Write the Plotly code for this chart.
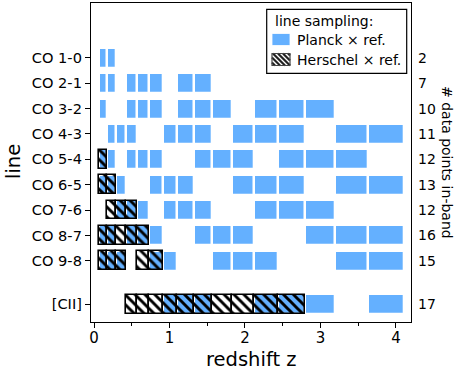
import plotly.graph_objects as go

# ---- data ----
lines = ["CO 1-0", "CO 2-1", "CO 3-2", "CO 4-3", "CO 5-4",
         "CO 6-5", "CO 7-6", "CO 8-7", "CO 9-8", "[CII]"]
line_pos = [1, 2, 3, 4, 5, 6, 7, 8, 9, 10.71]
n_points = [2, 7, 10, 11, 12, 13, 12, 16, 15, 17]

# redshift bin edges of the reference sample
z_edges = [0.062, 0.168, 0.287, 0.420, 0.571, 0.731, 0.911, 1.106, 1.322,
           1.565, 1.829, 2.120, 2.443, 2.798, 3.191, 3.624, 4.106]

# bins (1-based) in which the line falls into a Planck band
planck_bins = [
    [1, 2],
    [1, 2, 4, 5, 6, 8, 9],
    [1, 4, 5, 6, 8, 9, 10, 12, 13, 14],
    [2, 3, 4, 7, 8, 9, 11, 12, 13, 15, 16],
    [1, 2, 4, 5, 6, 9, 10, 11, 13, 14, 15],
    [1, 2, 3, 6, 7, 8, 11, 12, 13, 15, 16],
    [3, 4, 5, 7, 8, 9, 12, 13, 14],
    [1, 2, 4, 5, 6, 9, 10, 11, 14, 15, 16],
    [1, 2, 3, 6, 7, 10, 11, 12, 15, 16],
    [7, 8, 9, 12, 13, 14, 16],
]
# bins (1-based) in which the line falls into a Herschel band
herschel_bins = [
    [], [], [], [],
    [1],
    [1, 2],
    [2, 3, 4],
    [1, 2, 3, 4, 5],
    [1, 2, 3, 5, 6],
    [4, 5, 6, 7, 8, 9, 10, 11, 12, 13],
]

BLUE = "#64B0FF"
FONT = "DejaVu Sans"

# figure geometry (pixels)
W, H = 456, 375
ML, MR, MT, MB = 91, 45, 3, 53
PW, PH = W - ML - MR, H - MT - MB


def px(x):
    return (x - ML) / PW


def py(y):
    return (H - MB - y) / PH


def expand(bin_lists):
    ys, bases, widths = [], [], []
    for pos, bins in zip(line_pos, bin_lists):
        for b in bins:
            ys.append(pos)
            bases.append(z_edges[b - 1])
            widths.append(z_edges[b] - z_edges[b - 1])
    return ys, bases, widths


p_y, p_b, p_w = expand(planck_bins)
h_y, h_b, h_w = expand(herschel_bins)

fig = go.Figure()
fig.add_trace(go.Bar(
    orientation="h", y=p_y, x=p_w, base=p_b, width=0.79,
    marker=dict(color=BLUE, line=dict(color="white", width=2.3)),
    name="Planck \u00d7 ref.", hoverinfo="skip", showlegend=False))
fig.add_trace(go.Bar(
    orientation="h", y=h_y, x=h_w, base=h_b, width=0.74,
    marker=dict(color="black",
                pattern=dict(shape="\\", fillmode="replace", size=7,
                             solidity=0.42, bgcolor="rgba(0,0,0,0)"),
                line=dict(color="black", width=1.6)),
    name="Herschel \u00d7 ref.", hoverinfo="skip", showlegend=False))

annotations = []
for pos, n in zip(line_pos, n_points):
    annotations.append(dict(x=1, xref="paper", y=pos, yref="y", text=str(n),
                            xanchor="left", yanchor="middle", xshift=5,
                            showarrow=False, font=dict(size=14, color="black")))
annotations.append(dict(x=px(447), xref="paper", y=py(162), yref="paper",
                        text="# data points in-band", textangle=90,
                        xanchor="center", yanchor="middle", showarrow=False,
                        font=dict(size=14, color="black")))
annotations.append(dict(x=px(13), xref="paper", y=py(162), yref="paper",
                        text="line", textangle=-90,
                        xanchor="center", yanchor="middle", showarrow=False,
                        font=dict(size=19.5, color="black")))
annotations.append(dict(x=0.5, xref="paper", y=py(359), yref="paper",
                        text="redshift z",
                        xanchor="center", yanchor="middle", showarrow=False,
                        font=dict(size=19.5, color="black")))

# ---- hand-drawn legend (box, glyphs, texts) ----
shapes = []
shapes.append(dict(type="rect", xref="paper", yref="paper",
                   x0=px(266.7), x1=px(406.7), y0=py(73.3), y1=py(9.3),
                   line=dict(color="black", width=1.2), fillcolor="white"))
annotations.append(dict(x=px(273), xref="paper", y=py(21), yref="paper",
                        text="line sampling:", xanchor="left",
                        yanchor="middle", showarrow=False,
                        font=dict(size=14, color="black")))
annotations.append(dict(x=px(295), xref="paper", y=py(40), yref="paper",
                        text="Planck \u00d7 ref.", xanchor="left",
                        yanchor="middle", showarrow=False,
                        font=dict(size=14, color="black")))
annotations.append(dict(x=px(295), xref="paper", y=py(60), yref="paper",
                        text="Herschel \u00d7 ref.", xanchor="left",
                        yanchor="middle", showarrow=False,
                        font=dict(size=14, color="black")))
shapes.append(dict(type="rect", xref="paper", yref="paper",
                   x0=px(272), x1=px(290), y0=py(45.5), y1=py(33.5),
                   line=dict(color="white", width=0.8), fillcolor=BLUE))
# hatched glyph
gx0, gx1, gy0, gy1 = 272, 290, 53.5, 65.5
for c in [-14, -9, -4, 1, 6, 11, 16]:
    pts = []
    for yy in (gy0, gy1):
        xx = gx0 + (yy - gy0) + c
        if gx0 <= xx <= gx1:
            pts.append((xx, yy))
    for xx in (gx0, gx1):
        yy = gy0 + (xx - gx0) - c
        if gy0 <= yy <= gy1:
            pts.append((xx, yy))
    if len(pts) >= 2:
        (ax, ay), (bx, by) = pts[0], pts[-1]
        shapes.append(dict(type="line", xref="paper", yref="paper",
                           x0=px(ax), y0=py(ay), x1=px(bx), y1=py(by),
                           line=dict(color="#222222", width=2.2)))
shapes.append(dict(type="rect", xref="paper", yref="paper",
                   x0=px(gx0), x1=px(gx1), y0=py(gy1), y1=py(gy0),
                   line=dict(color="#444444", width=1.2)))

fig.update_layout(
    width=W, height=H,
    margin=dict(l=ML, r=MR, t=MT, b=MB),
    paper_bgcolor="white", plot_bgcolor="white",
    font=dict(family=FONT, color="black"),
    barmode="overlay", bargap=0,
    showlegend=False,
    xaxis=dict(range=[-0.04, 4.2], tickvals=[0, 1, 2, 3, 4],
               ticks="outside", ticklen=5, tickwidth=1.2, tickcolor="black",
               minor=dict(ticks="outside", ticklen=3, tickwidth=1,
                          dtick=0.5, tick0=0, tickcolor="black"),
               showline=True, linecolor="black", linewidth=1.3, mirror=True,
               showgrid=False, zeroline=False, ticklabelstandoff=-3,
               tickfont=dict(size=15)),
    yaxis=dict(range=[11.41, -1.16], tickvals=line_pos, ticktext=lines,
               ticks="outside", ticklen=5, tickwidth=1.2, tickcolor="black",
               showline=True, linecolor="black", linewidth=1.3, mirror=True,
               showgrid=False, zeroline=False,
               tickfont=dict(size=14.6)),
    annotations=annotations,
    shapes=shapes,
)

fig.write_html("out.html",
               config={"displayModeBar": False},
               post_script="document.body.style.margin='0';"
                           "document.body.style.overflow='hidden';")
